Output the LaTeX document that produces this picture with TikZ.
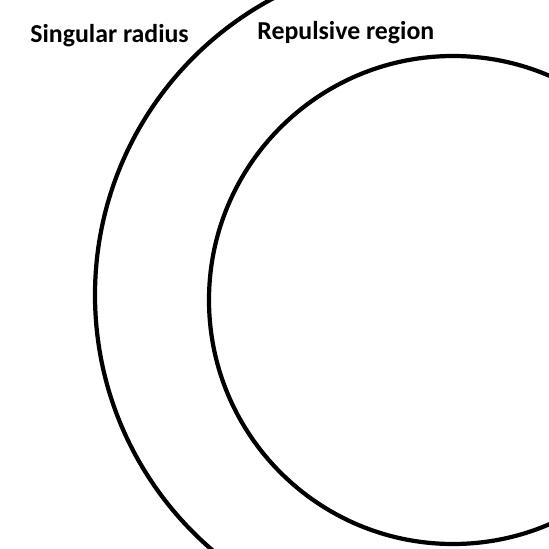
\documentclass[tikz,border=0pt]{standalone}
\usepackage{fontspec}
\setmainfont{Carlito}
\usetikzlibrary{positioning}

\begin{document}
\begin{tikzpicture}[
  x=0.02cm, y=-0.02cm,
  ring/.style={draw=black, line width=2.4pt},
  lbl/.style={font=\bfseries\fontsize{14.7}{17}\selectfont, inner sep=0pt, anchor=base west},
]
  \useasboundingbox (0,0) rectangle (549,549);
  \begin{scope}
    \clip (0,0) rectangle (549,549);
    \draw[ring] (431,295) circle[radius=336];
    \draw[ring] (453,300) circle[radius=244];
  \end{scope}
  \node[lbl] (singular) at (30,42) {Singular radius};
  \node[lbl] (repulsive) at (257,39) {Repulsive region};
\end{tikzpicture}
\end{document}
